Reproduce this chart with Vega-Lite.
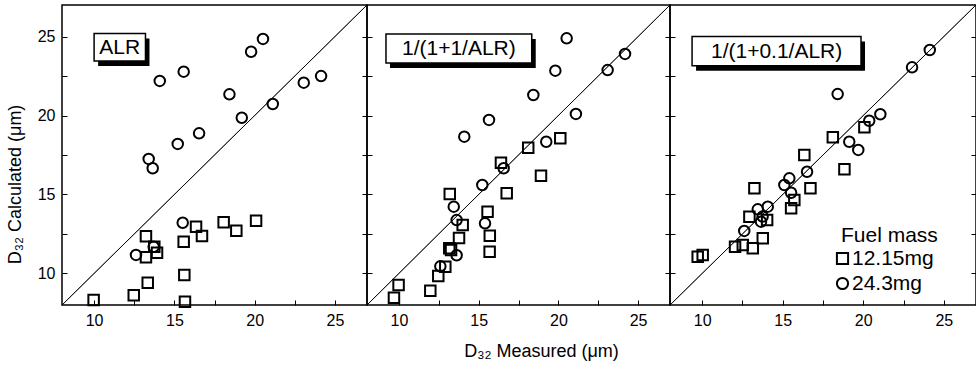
{
  "$schema": "https://vega.github.io/schema/vega-lite/v6.json",
  "padding": {"left": 5, "top": 2, "right": 0, "bottom": 0},
  "spacing": 0,
  "bounds": "flush",
  "datasets": {
    "pts": [
      {"panel": "ALR", "fuel": "12.15mg", "measured": 9.97, "calculated": 8.32},
      {"panel": "ALR", "fuel": "12.15mg", "measured": 12.47, "calculated": 8.61},
      {"panel": "ALR", "fuel": "12.15mg", "measured": 13.34, "calculated": 9.41},
      {"panel": "ALR", "fuel": "12.15mg", "measured": 13.23, "calculated": 12.36},
      {"panel": "ALR", "fuel": "12.15mg", "measured": 13.75, "calculated": 11.69},
      {"panel": "ALR", "fuel": "12.15mg", "measured": 13.92, "calculated": 11.31},
      {"panel": "ALR", "fuel": "12.15mg", "measured": 13.23, "calculated": 11.02},
      {"panel": "ALR", "fuel": "12.15mg", "measured": 15.58, "calculated": 12.01},
      {"panel": "ALR", "fuel": "12.15mg", "measured": 16.35, "calculated": 12.96},
      {"panel": "ALR", "fuel": "12.15mg", "measured": 16.72, "calculated": 12.37},
      {"panel": "ALR", "fuel": "12.15mg", "measured": 15.62, "calculated": 9.9},
      {"panel": "ALR", "fuel": "12.15mg", "measured": 15.66, "calculated": 8.21},
      {"panel": "ALR", "fuel": "12.15mg", "measured": 18.07, "calculated": 13.24},
      {"panel": "ALR", "fuel": "12.15mg", "measured": 18.86, "calculated": 12.71},
      {"panel": "ALR", "fuel": "12.15mg", "measured": 20.09, "calculated": 13.34},
      {"panel": "ALR", "fuel": "24.3mg", "measured": 12.61, "calculated": 11.17},
      {"panel": "ALR", "fuel": "24.3mg", "measured": 13.71, "calculated": 11.69},
      {"panel": "ALR", "fuel": "24.3mg", "measured": 13.4, "calculated": 17.25},
      {"panel": "ALR", "fuel": "24.3mg", "measured": 13.65, "calculated": 16.66},
      {"panel": "ALR", "fuel": "24.3mg", "measured": 14.09, "calculated": 22.19},
      {"panel": "ALR", "fuel": "24.3mg", "measured": 15.21, "calculated": 18.2},
      {"panel": "ALR", "fuel": "24.3mg", "measured": 15.58, "calculated": 22.78},
      {"panel": "ALR", "fuel": "24.3mg", "measured": 15.52, "calculated": 13.21},
      {"panel": "ALR", "fuel": "24.3mg", "measured": 16.54, "calculated": 18.87},
      {"panel": "ALR", "fuel": "24.3mg", "measured": 18.43, "calculated": 21.34},
      {"panel": "ALR", "fuel": "24.3mg", "measured": 19.2, "calculated": 19.86},
      {"panel": "ALR", "fuel": "24.3mg", "measured": 19.78, "calculated": 24.04},
      {"panel": "ALR", "fuel": "24.3mg", "measured": 20.52, "calculated": 24.85},
      {"panel": "ALR", "fuel": "24.3mg", "measured": 21.13, "calculated": 20.73},
      {"panel": "ALR", "fuel": "24.3mg", "measured": 23.06, "calculated": 22.08},
      {"panel": "ALR", "fuel": "24.3mg", "measured": 24.14, "calculated": 22.5},

      {"panel": "1/(1+1/ALR)", "fuel": "12.15mg", "measured": 9.98, "calculated": 9.27},
      {"panel": "1/(1+1/ALR)", "fuel": "12.15mg", "measured": 9.69, "calculated": 8.46},
      {"panel": "1/(1+1/ALR)", "fuel": "12.15mg", "measured": 11.97, "calculated": 8.91},
      {"panel": "1/(1+1/ALR)", "fuel": "12.15mg", "measured": 12.47, "calculated": 9.84},
      {"panel": "1/(1+1/ALR)", "fuel": "12.15mg", "measured": 12.91, "calculated": 10.43},
      {"panel": "1/(1+1/ALR)", "fuel": "12.15mg", "measured": 13.27, "calculated": 11.48},
      {"panel": "1/(1+1/ALR)", "fuel": "12.15mg", "measured": 13.16, "calculated": 11.59},
      {"panel": "1/(1+1/ALR)", "fuel": "12.15mg", "measured": 13.77, "calculated": 12.25},
      {"panel": "1/(1+1/ALR)", "fuel": "12.15mg", "measured": 14.0, "calculated": 13.07},
      {"panel": "1/(1+1/ALR)", "fuel": "12.15mg", "measured": 13.19, "calculated": 15.03},
      {"panel": "1/(1+1/ALR)", "fuel": "12.15mg", "measured": 15.56, "calculated": 13.91},
      {"panel": "1/(1+1/ALR)", "fuel": "12.15mg", "measured": 15.7, "calculated": 12.39},
      {"panel": "1/(1+1/ALR)", "fuel": "12.15mg", "measured": 15.69, "calculated": 11.38},
      {"panel": "1/(1+1/ALR)", "fuel": "12.15mg", "measured": 16.4, "calculated": 17.01},
      {"panel": "1/(1+1/ALR)", "fuel": "12.15mg", "measured": 16.76, "calculated": 15.07},
      {"panel": "1/(1+1/ALR)", "fuel": "12.15mg", "measured": 18.11, "calculated": 17.96},
      {"panel": "1/(1+1/ALR)", "fuel": "12.15mg", "measured": 18.91, "calculated": 16.19},
      {"panel": "1/(1+1/ALR)", "fuel": "12.15mg", "measured": 20.12, "calculated": 18.56},
      {"panel": "1/(1+1/ALR)", "fuel": "24.3mg", "measured": 12.6, "calculated": 10.45},
      {"panel": "1/(1+1/ALR)", "fuel": "24.3mg", "measured": 13.44, "calculated": 14.23},
      {"panel": "1/(1+1/ALR)", "fuel": "24.3mg", "measured": 13.62, "calculated": 13.38},
      {"panel": "1/(1+1/ALR)", "fuel": "24.3mg", "measured": 13.62, "calculated": 11.15},
      {"panel": "1/(1+1/ALR)", "fuel": "24.3mg", "measured": 14.1, "calculated": 18.66},
      {"panel": "1/(1+1/ALR)", "fuel": "24.3mg", "measured": 15.23, "calculated": 15.6},
      {"panel": "1/(1+1/ALR)", "fuel": "24.3mg", "measured": 15.4, "calculated": 13.17},
      {"panel": "1/(1+1/ALR)", "fuel": "24.3mg", "measured": 15.65, "calculated": 19.72},
      {"panel": "1/(1+1/ALR)", "fuel": "24.3mg", "measured": 16.57, "calculated": 16.66},
      {"panel": "1/(1+1/ALR)", "fuel": "24.3mg", "measured": 18.43, "calculated": 21.3},
      {"panel": "1/(1+1/ALR)", "fuel": "24.3mg", "measured": 19.24, "calculated": 18.34},
      {"panel": "1/(1+1/ALR)", "fuel": "24.3mg", "measured": 19.81, "calculated": 22.84},
      {"panel": "1/(1+1/ALR)", "fuel": "24.3mg", "measured": 20.52, "calculated": 24.89},
      {"panel": "1/(1+1/ALR)", "fuel": "24.3mg", "measured": 21.1, "calculated": 20.1},
      {"panel": "1/(1+1/ALR)", "fuel": "24.3mg", "measured": 23.09, "calculated": 22.88},
      {"panel": "1/(1+1/ALR)", "fuel": "24.3mg", "measured": 24.18, "calculated": 23.9},

      {"panel": "1/(1+0.1/ALR)", "fuel": "12.15mg", "measured": 9.72, "calculated": 11.06},
      {"panel": "1/(1+0.1/ALR)", "fuel": "12.15mg", "measured": 10.03, "calculated": 11.17},
      {"panel": "1/(1+0.1/ALR)", "fuel": "12.15mg", "measured": 12.04, "calculated": 11.69},
      {"panel": "1/(1+0.1/ALR)", "fuel": "12.15mg", "measured": 12.52, "calculated": 11.8},
      {"panel": "1/(1+0.1/ALR)", "fuel": "12.15mg", "measured": 13.14, "calculated": 11.59},
      {"panel": "1/(1+0.1/ALR)", "fuel": "12.15mg", "measured": 13.76, "calculated": 12.22},
      {"panel": "1/(1+0.1/ALR)", "fuel": "12.15mg", "measured": 12.93, "calculated": 13.59},
      {"panel": "1/(1+0.1/ALR)", "fuel": "12.15mg", "measured": 13.24, "calculated": 15.39},
      {"panel": "1/(1+0.1/ALR)", "fuel": "12.15mg", "measured": 14.03, "calculated": 13.38},
      {"panel": "1/(1+0.1/ALR)", "fuel": "12.15mg", "measured": 15.52, "calculated": 14.12},
      {"panel": "1/(1+0.1/ALR)", "fuel": "12.15mg", "measured": 15.72, "calculated": 14.65},
      {"panel": "1/(1+0.1/ALR)", "fuel": "12.15mg", "measured": 16.34, "calculated": 17.5},
      {"panel": "1/(1+0.1/ALR)", "fuel": "12.15mg", "measured": 16.72, "calculated": 15.39},
      {"panel": "1/(1+0.1/ALR)", "fuel": "12.15mg", "measured": 18.11, "calculated": 18.62},
      {"panel": "1/(1+0.1/ALR)", "fuel": "12.15mg", "measured": 18.83, "calculated": 16.59},
      {"panel": "1/(1+0.1/ALR)", "fuel": "12.15mg", "measured": 20.07, "calculated": 19.25},
      {"panel": "1/(1+0.1/ALR)", "fuel": "24.3mg", "measured": 12.61, "calculated": 12.69},
      {"panel": "1/(1+0.1/ALR)", "fuel": "24.3mg", "measured": 13.45, "calculated": 14.06},
      {"panel": "1/(1+0.1/ALR)", "fuel": "24.3mg", "measured": 13.65, "calculated": 13.28},
      {"panel": "1/(1+0.1/ALR)", "fuel": "24.3mg", "measured": 13.75, "calculated": 13.6},
      {"panel": "1/(1+0.1/ALR)", "fuel": "24.3mg", "measured": 14.07, "calculated": 14.23},
      {"panel": "1/(1+0.1/ALR)", "fuel": "24.3mg", "measured": 15.1, "calculated": 15.6},
      {"panel": "1/(1+0.1/ALR)", "fuel": "24.3mg", "measured": 15.41, "calculated": 16.02},
      {"panel": "1/(1+0.1/ALR)", "fuel": "24.3mg", "measured": 15.52, "calculated": 15.11},
      {"panel": "1/(1+0.1/ALR)", "fuel": "24.3mg", "measured": 16.51, "calculated": 16.44},
      {"panel": "1/(1+0.1/ALR)", "fuel": "24.3mg", "measured": 18.41, "calculated": 21.36},
      {"panel": "1/(1+0.1/ALR)", "fuel": "24.3mg", "measured": 19.13, "calculated": 18.34},
      {"panel": "1/(1+0.1/ALR)", "fuel": "24.3mg", "measured": 19.69, "calculated": 17.82},
      {"panel": "1/(1+0.1/ALR)", "fuel": "24.3mg", "measured": 20.37, "calculated": 19.67},
      {"panel": "1/(1+0.1/ALR)", "fuel": "24.3mg", "measured": 21.06, "calculated": 20.08},
      {"panel": "1/(1+0.1/ALR)", "fuel": "24.3mg", "measured": 23.03, "calculated": 23.05},
      {"panel": "1/(1+0.1/ALR)", "fuel": "24.3mg", "measured": 24.13, "calculated": 24.15}
    ],
    "boxes": [
      {"panel": "ALR", "label": "ALR", "x1": 10.0, "x2": 13.2, "y1": 23.45, "y2": 25.2, "xm": 11.6, "ym": 24.33},
      {"panel": "1/(1+1/ALR)", "label": "1/(1+1/ALR)", "x1": 9.19, "x2": 18.33, "y1": 23.33, "y2": 25.16, "xm": 13.76, "ym": 24.25},
      {"panel": "1/(1+0.1/ALR)", "label": "1/(1+0.1/ALR)", "x1": 9.37, "x2": 19.86, "y1": 23.16, "y2": 25.0, "xm": 14.62, "ym": 24.08}
    ],
    "diag": [
      {"measured": 8, "calculated": 8},
      {"measured": 27, "calculated": 27}
    ]
  },
  "hconcat": [
    {
      "width": 305, "height": 300,
      "resolve": {"axis": {"y": "independent"}},
      "layer": [
        {
          "data": {"name": "diag"},
          "mark": {"type": "line", "color": "black", "strokeWidth": 0.8},
          "encoding": {
            "x": {"field": "measured", "type": "quantitative", "scale": {"domain": [8, 27], "nice": false, "zero": false},
                  "axis": {"title": null, "values": [10, 12.5, 15, 17.5, 20, 22.5, 25], "labelExpr": "datum.value % 5 == 0 ? datum.label : ''"}},
            "y": {"field": "calculated", "type": "quantitative", "scale": {"domain": [8, 27], "nice": false, "zero": false},
                  "axis": {"title": "D₃₂ Calculated (μm)", "titleFontSize": 18, "titleY": 179, "titlePadding": 13, "values": [10, 12.5, 15, 17.5, 20, 22.5, 25], "labelExpr": "datum.value % 5 == 0 ? datum.label : ''"}}
          }
        },
        {
          "data": {"name": "diag"},
          "mark": {"type": "line", "color": "black", "strokeWidth": 0.8},
          "encoding": {
            "x": {"field": "measured", "type": "quantitative"},
            "y": {"field": "calculated", "type": "quantitative",
                  "axis": {"orient": "right", "title": null, "labels": false, "labelPadding": 5, "minExtent": 0, "values": [10, 12.5, 15, 17.5, 20, 22.5, 25]}}
          }
        },
        {
          "data": {"name": "pts"},
          "transform": [{"filter": "datum.panel === 'ALR'"}],
          "mark": {"type": "point", "filled": false, "color": "black", "strokeWidth": 2, "opacity": 1, "size": 110},
          "encoding": {
            "x": {"field": "measured", "type": "quantitative"},
            "y": {"field": "calculated", "type": "quantitative", "axis": null},
            "shape": {"field": "fuel", "type": "nominal", "scale": {"domain": ["12.15mg", "24.3mg"], "range": ["square", "circle"]},
                      "legend": {"title": "Fuel mass", "orient": "none", "legendX": 779, "legendY": 220}}
          }
        },
        {
          "data": {"name": "boxes"},
          "transform": [{"filter": "datum.panel === 'ALR'"}],
          "mark": {"type": "rect", "color": "black", "xOffset": 4, "x2Offset": 4, "yOffset": 5, "y2Offset": 5},
          "encoding": {
            "x": {"field": "x1", "type": "quantitative"}, "x2": {"field": "x2"},
            "y": {"field": "y1", "type": "quantitative", "axis": null}, "y2": {"field": "y2"}
          }
        },
        {
          "data": {"name": "boxes"},
          "transform": [{"filter": "datum.panel === 'ALR'"}],
          "mark": {"type": "rect", "fill": "white", "stroke": "black", "strokeWidth": 1.5},
          "encoding": {
            "x": {"field": "x1", "type": "quantitative"}, "x2": {"field": "x2"},
            "y": {"field": "y1", "type": "quantitative", "axis": null}, "y2": {"field": "y2"}
          }
        },
        {
          "data": {"name": "boxes"},
          "transform": [{"filter": "datum.panel === 'ALR'"}],
          "mark": {"type": "text", "fontSize": 21, "color": "black", "align": "center", "baseline": "middle", "dy": 1},
          "encoding": {
            "x": {"field": "xm", "type": "quantitative"},
            "y": {"field": "ym", "type": "quantitative", "axis": null},
            "text": {"field": "label"}
          }
        }
      ]
    },
    {
      "width": 303, "height": 300,
      "resolve": {"axis": {"y": "independent"}},
      "layer": [
        {
          "data": {"name": "diag"},
          "mark": {"type": "line", "color": "black", "strokeWidth": 0.8},
          "encoding": {
            "x": {"field": "measured", "type": "quantitative", "scale": {"domain": [8, 27], "nice": false, "zero": false},
                  "axis": {"title": "D₃₂ Measured (μm)", "titleFontSize": 18, "titleX": 174, "titlePadding": 14, "values": [10, 12.5, 15, 17.5, 20, 22.5, 25], "labelExpr": "datum.value % 5 == 0 ? datum.label : ''"}},
            "y": {"field": "calculated", "type": "quantitative", "scale": {"domain": [8, 27], "nice": false, "zero": false},
                  "axis": {"title": null, "labels": false, "labelPadding": 5, "minExtent": 0, "values": [10, 12.5, 15, 17.5, 20, 22.5, 25]}}
          }
        },
        {
          "data": {"name": "diag"},
          "mark": {"type": "line", "color": "black", "strokeWidth": 0.8},
          "encoding": {
            "x": {"field": "measured", "type": "quantitative"},
            "y": {"field": "calculated", "type": "quantitative",
                  "axis": {"orient": "right", "title": null, "labels": false, "labelPadding": 5, "minExtent": 0, "values": [10, 12.5, 15, 17.5, 20, 22.5, 25]}}
          }
        },
        {
          "data": {"name": "pts"},
          "transform": [{"filter": "datum.panel === '1/(1+1/ALR)'"}],
          "mark": {"type": "point", "filled": false, "color": "black", "strokeWidth": 2, "opacity": 1, "size": 110},
          "encoding": {
            "x": {"field": "measured", "type": "quantitative"},
            "y": {"field": "calculated", "type": "quantitative", "axis": null},
            "shape": {"field": "fuel", "type": "nominal", "scale": {"domain": ["12.15mg", "24.3mg"], "range": ["square", "circle"]},
                      "legend": {"title": "Fuel mass", "orient": "none", "legendX": 779, "legendY": 220}}
          }
        },
        {
          "data": {"name": "boxes"},
          "transform": [{"filter": "datum.panel === '1/(1+1/ALR)'"}],
          "mark": {"type": "rect", "color": "black", "xOffset": 4, "x2Offset": 4, "yOffset": 5, "y2Offset": 5},
          "encoding": {
            "x": {"field": "x1", "type": "quantitative"}, "x2": {"field": "x2"},
            "y": {"field": "y1", "type": "quantitative", "axis": null}, "y2": {"field": "y2"}
          }
        },
        {
          "data": {"name": "boxes"},
          "transform": [{"filter": "datum.panel === '1/(1+1/ALR)'"}],
          "mark": {"type": "rect", "fill": "white", "stroke": "black", "strokeWidth": 1.5},
          "encoding": {
            "x": {"field": "x1", "type": "quantitative"}, "x2": {"field": "x2"},
            "y": {"field": "y1", "type": "quantitative", "axis": null}, "y2": {"field": "y2"}
          }
        },
        {
          "data": {"name": "boxes"},
          "transform": [{"filter": "datum.panel === '1/(1+1/ALR)'"}],
          "mark": {"type": "text", "fontSize": 21, "color": "black", "align": "center", "baseline": "middle", "dy": 1},
          "encoding": {
            "x": {"field": "xm", "type": "quantitative"},
            "y": {"field": "ym", "type": "quantitative", "axis": null},
            "text": {"field": "label"}
          }
        }
      ]
    },
    {
      "width": 306, "height": 300,
      "resolve": {"axis": {"y": "independent"}},
      "layer": [
        {
          "data": {"name": "diag"},
          "mark": {"type": "line", "color": "black", "strokeWidth": 0.8},
          "encoding": {
            "x": {"field": "measured", "type": "quantitative", "scale": {"domain": [8, 27], "nice": false, "zero": false},
                  "axis": {"title": null, "values": [10, 12.5, 15, 17.5, 20, 22.5, 25], "labelExpr": "datum.value % 5 == 0 ? datum.label : ''"}},
            "y": {"field": "calculated", "type": "quantitative", "scale": {"domain": [8, 27], "nice": false, "zero": false},
                  "axis": {"title": null, "labels": false, "labelPadding": 5, "minExtent": 0, "values": [10, 12.5, 15, 17.5, 20, 22.5, 25]}}
          }
        },
        {
          "data": {"name": "diag"},
          "mark": {"type": "line", "color": "black", "strokeWidth": 0.8},
          "encoding": {
            "x": {"field": "measured", "type": "quantitative"},
            "y": {"field": "calculated", "type": "quantitative",
                  "axis": {"orient": "right", "title": null, "labels": false, "labelPadding": 5, "minExtent": 0, "values": [10, 12.5, 15, 17.5, 20, 22.5, 25]}}
          }
        },
        {
          "data": {"name": "pts"},
          "transform": [{"filter": "datum.panel === '1/(1+0.1/ALR)'"}],
          "mark": {"type": "point", "filled": false, "color": "black", "strokeWidth": 2, "opacity": 1, "size": 110},
          "encoding": {
            "x": {"field": "measured", "type": "quantitative"},
            "y": {"field": "calculated", "type": "quantitative", "axis": null},
            "shape": {"field": "fuel", "type": "nominal", "scale": {"domain": ["12.15mg", "24.3mg"], "range": ["square", "circle"]},
                      "legend": {"title": "Fuel mass", "orient": "none", "legendX": 779, "legendY": 220}}
          }
        },
        {
          "data": {"name": "boxes"},
          "transform": [{"filter": "datum.panel === '1/(1+0.1/ALR)'"}],
          "mark": {"type": "rect", "color": "black", "xOffset": 4, "x2Offset": 4, "yOffset": 5, "y2Offset": 5},
          "encoding": {
            "x": {"field": "x1", "type": "quantitative"}, "x2": {"field": "x2"},
            "y": {"field": "y1", "type": "quantitative", "axis": null}, "y2": {"field": "y2"}
          }
        },
        {
          "data": {"name": "boxes"},
          "transform": [{"filter": "datum.panel === '1/(1+0.1/ALR)'"}],
          "mark": {"type": "rect", "fill": "white", "stroke": "black", "strokeWidth": 1.5},
          "encoding": {
            "x": {"field": "x1", "type": "quantitative"}, "x2": {"field": "x2"},
            "y": {"field": "y1", "type": "quantitative", "axis": null}, "y2": {"field": "y2"}
          }
        },
        {
          "data": {"name": "boxes"},
          "transform": [{"filter": "datum.panel === '1/(1+0.1/ALR)'"}],
          "mark": {"type": "text", "fontSize": 21, "color": "black", "align": "center", "baseline": "middle", "dy": 1},
          "encoding": {
            "x": {"field": "xm", "type": "quantitative"},
            "y": {"field": "ym", "type": "quantitative", "axis": null},
            "text": {"field": "label"}
          }
        }
      ]
    }
  ],
  "config": {
    "font": "Liberation Sans",
    "background": "white",
    "view": {"stroke": "black", "strokeWidth": 1.5},
    "axis": {
      "grid": false, "domain": false,
      "tickColor": "black", "tickSize": -5, "tickWidth": 1,
      "labelFontSize": 16, "labelColor": "black", "labelPadding": 12,
      "titleFontSize": 18, "titleFontWeight": "normal", "titleColor": "black"
    },
    "legend": {
      "titleFontSize": 21, "titleFontWeight": "normal", "titleColor": "black",
      "labelFontSize": 21, "labelColor": "black", "labelOffset": -1, "symbolOffset": -9,
      "symbolSize": 125, "symbolStrokeWidth": 2, "symbolStrokeColor": "black", "symbolFillColor": "transparent",
      "rowPadding": 3, "titlePadding": 2
    }
  }
}
